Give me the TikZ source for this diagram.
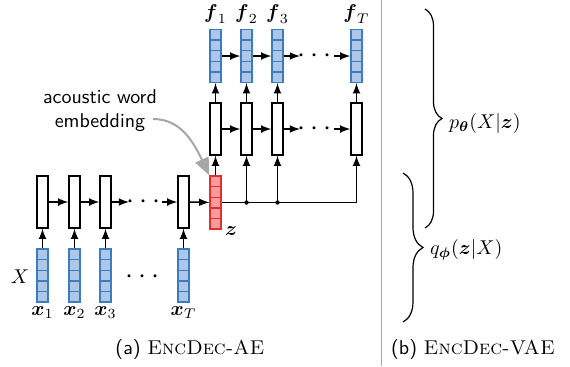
\documentclass[tikz,border=0pt]{standalone}
\usepackage{amsmath}
\usepackage{amssymb}
\usetikzlibrary{arrows,positioning,calc,decorations.pathreplacing}
\definecolor{featfill}{HTML}{AEC7E8}
\definecolor{featdraw}{HTML}{3A7EC0}
\definecolor{embfill}{HTML}{FF9A9A}
\definecolor{embdraw}{HTML}{E03030}
\tikzset
{
	rnnnode/.style = {rectangle, draw=black, fill=white, line width=0.7pt, minimum width=5.5pt, minimum height=26pt, inner sep=0pt},
	vecnode/.style = {rectangle, draw=#1, line width=0.7pt, minimum width=5.5pt, minimum height=26.5pt, inner sep=0pt,
		path picture={\foreach \k in {1,...,4}{\draw[#1, line width=0.7pt] ($(path picture bounding box.south west)!\k/5!(path picture bounding box.north west)$) -- ($(path picture bounding box.south east)!\k/5!(path picture bounding box.north east)$);}}},
	featnode/.style = {vecnode=featdraw, fill=featfill},
	embnode/.style  = {vecnode=embdraw, fill=embfill},
	conn/.style     = {-latex, line width=0.75pt},
	dotsnode/.style = {font=\Large, inner sep=0pt},
	annarrow/.style = {-triangle 45, line width=1pt, draw=black!35},
	vbrace/.style   = {decorate, decoration={brace, amplitude=#1}, line width=0.6pt}
}

\begin{document}
\begin{tikzpicture}[x=0.5pt, y=-0.5pt]
\useasboundingbox (0,0) rectangle (570,366);
\node[rnnnode] (e1) at (42.5,202) {};
\node[rnnnode] (e2) at (74.5,202) {};
\node[rnnnode] (e3) at (105.5,202) {};
\node[rnnnode] (eT) at (183.5,202) {};
\node[featnode] (x1) at (42.5,275.5) {};
\node[featnode] (x2) at (74.5,275.5) {};
\node[featnode] (x3) at (105.5,275.5) {};
\node[featnode] (xT) at (183.5,275.5) {};
\node[below=-1.5pt of x1] (lx1) {$\boldsymbol{x}_1$};
\node[below=-1.5pt of x2] (lx2) {$\boldsymbol{x}_2$};
\node[below=-1.5pt of x3] (lx3) {$\boldsymbol{x}_3$};
\node[below=-1.5pt of xT] (lxT) {$\boldsymbol{x}_T$};
\node (lX) at (20,277) {$X$};
\node[dotsnode] (xdots) at (145,277.5) {$\cdots$};
\foreach \i in {1,2,3,T}
	\draw[conn] (x\i) -- (e\i);
\draw[conn] (e1) -- (e2);
\draw[conn] (e2) -- (e3);
\coordinate (ed1) at (129,202);
\coordinate (ed2) at (162,202);
\node[dotsnode] (edots) at (146,202.5) {$\cdots$};
\draw[conn] (e3) -- (ed1);
\draw[conn] (ed2) -- (eT);
\node[embnode] (z) at (215.5,202.5) {};
\node (lz) at (231,231) {$\boldsymbol{z}$};
\draw[conn] (eT) -- (z);
\node[rnnnode] (d1) at (215.5,129) {};
\node[rnnnode] (d2) at (246.5,129) {};
\node[rnnnode] (d3) at (277.5,129) {};
\node[rnnnode] (dT) at (356.5,129) {};
\node[featnode] (f1) at (215.5,56) {};
\node[featnode] (f2) at (246.5,56) {};
\node[featnode] (f3) at (277.5,56) {};
\node[featnode] (fT) at (356.5,56) {};
\node[above=-1pt of f1] (lf1) {$\boldsymbol{f}_1$};
\node[above=-1pt of f2] (lf2) {$\boldsymbol{f}_2$};
\node[above=-1pt of f3] (lf3) {$\boldsymbol{f}_3$};
\node[above=-1pt of fT] (lfT) {$\boldsymbol{f}_T$};
\draw[conn] (z) -- (d1);
\draw[conn] (z.east) -| (dT);
\draw[conn] (d2 |- z) -- (d2);
\draw[conn] (d3 |- z) -- (d3);
\fill (d2 |- z) circle (2.2);
\fill (d3 |- z) circle (2.2);
\foreach \i in {1,2,3,T}
	\draw[conn] (d\i) -- (f\i);
\draw[conn] (d1) -- (d2);
\draw[conn] (d2) -- (d3);
\coordinate (dd1) at (300,129);
\coordinate (dd2) at (334,129);
\node[dotsnode] (ddots) at (317,129.5) {$\cdots$};
\draw[conn] (d3) -- (dd1);
\draw[conn] (dd2) -- (dT);
\draw[conn] (f1) -- (f2);
\draw[conn] (f2) -- (f3);
\coordinate (fd1) at (300,56);
\coordinate (fd2) at (334,56);
\node[dotsnode] (fdots) at (317,56.5) {$\cdots$};
\draw[conn] (f3) -- (fd1);
\draw[conn] (fd2) -- (fT);
\node[font=\sffamily, align=center] (awe) at (100,111) {acoustic word\\embedding};
\coordinate (awetail) at (153,119);
\draw[annarrow] (awetail) to[out=0, in=115] (z.north west);
\draw[black!35, line width=0.5pt] (382,0) -- (382,366);
\draw[vbrace=8.5pt] (425,9) -- (425,228);
\node[right] (lp) at (442,123) {$p_{\boldsymbol{\theta}}(X|\boldsymbol{z})$};
\draw[vbrace=10pt] (403,173) -- (403,322);
\node[right] (lq) at (423,250) {$q_{\boldsymbol{\phi}}(\boldsymbol{z}|X)$};
\node (capa) at (190,349) {\textsf{(a)} \textsc{EncDec-AE}};
\node (capb) at (473,349) {\textsf{(b)} \textsc{EncDec-VAE}};
\end{tikzpicture}
\end{document}
